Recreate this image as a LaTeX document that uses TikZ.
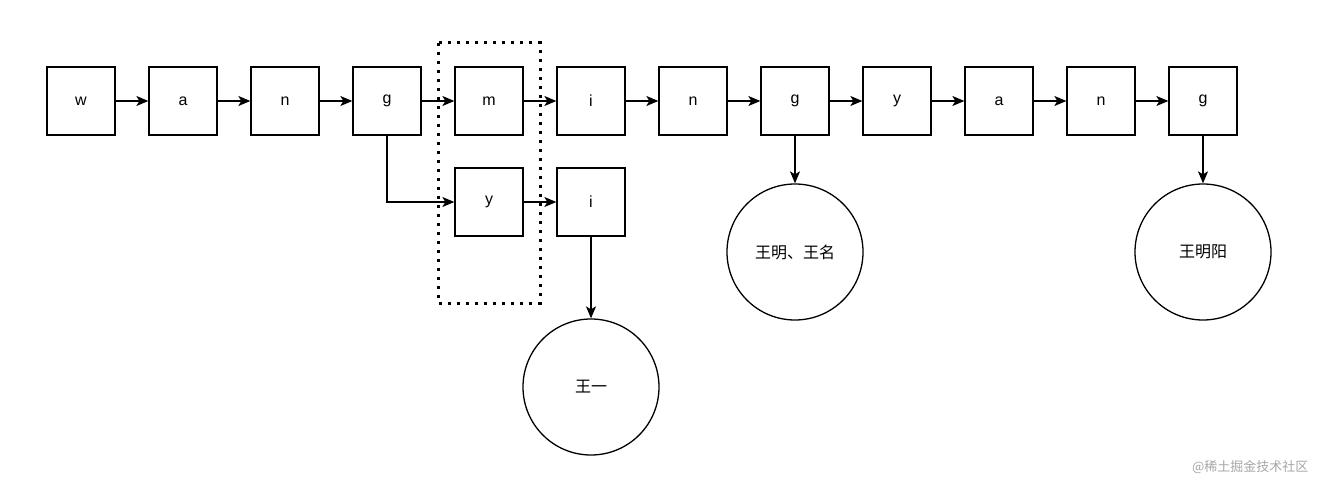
\documentclass[tikz,border=0pt]{standalone}
\usepackage{fontspec}
\usetikzlibrary{arrows.meta}
\setmainfont{Liberation Sans}
\newfontfamily\cjk{Noto Sans CJK SC}
\begin{document}
\begin{tikzpicture}[x=1pt,y=-1pt,
 box/.style={draw,line width=1.3pt,minimum width=68pt,minimum height=68pt,font=\fontsize{16}{16}\selectfont},
 circ/.style={draw,line width=1.3pt,circle,minimum size=136pt,font=\cjk\fontsize{16}{16}\selectfont},
 arr/.style={-{Stealth[length=12pt,width=10pt,inset=3pt]},line width=1.3pt}]
\useasboundingbox (0,0) rectangle (1320,484);
\foreach \n/\t [count=\i from 0] in {b0/w,b1/a,b2/n,b3/g,b4/m,b5/i,b6/n,b7/g,b8/y,b9/a,b10/n,b11/g}
  \node[box] (\n) at (81+102*\i,101) {\t};
\foreach \a/\b in {b0/b1,b1/b2,b2/b3,b3/b4,b4/b5,b5/b6,b6/b7,b7/b8,b8/b9,b9/b10,b10/b11}
  \draw[arr] (\a) -- (\b);
\node[box] (y) at (489,202) {y};
\node[box] (i2) at (591,202) {i};
\draw[arr] (b3.south) |- (y.west);
\draw[arr] (y) -- (i2);
\node[circ] (c1) at (591,387) {王一};
\node[circ] (c2) at (795,252) {王明、王名};
\node[circ] (c3) at (1203,252) {王明阳};
\draw[arr] (i2) -- (c1);
\draw[arr] (b7) -- (c2);
\draw[arr] (b11) -- (c3);
\draw[line width=3pt,dash pattern=on 3pt off 6pt] (438,43) rectangle (540,303);
\node[anchor=east,text=gray!70,font=\cjk\fontsize{13}{13}\selectfont] (wm) at (1312,467) {@稀土掘金技术社区};
\end{tikzpicture}
\end{document}
